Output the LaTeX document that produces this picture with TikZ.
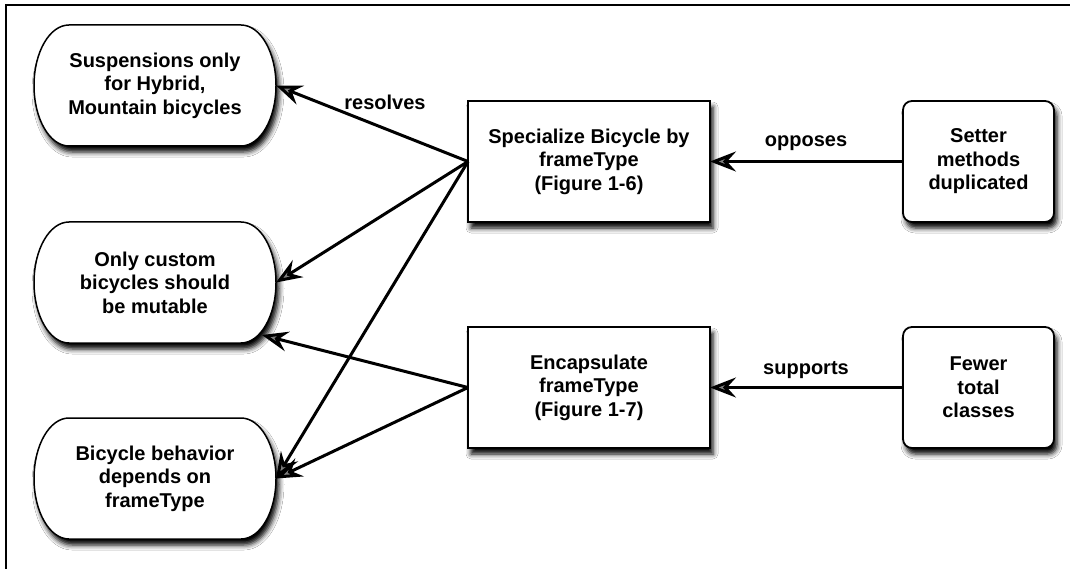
\documentclass[tikz,border=0pt]{standalone}
\usepackage{fontspec}
\setmainfont{Liberation Sans}
\usetikzlibrary{arrows.meta,shadows.blur,calc}

% Oval frame (straight top and bottom, half-elliptic ends), 242 x 121, centred on a point
\newcommand\ovalat[1]{%
  \draw[ovalline]
    ($(#1)+(-86,-60.5)$) -- ($(#1)+(86,-60.5)$)
    arc[start angle=90,end angle=-90,x radius=35pt,y radius=60.5pt]
    -- ($(#1)+(-86,60.5)$)
    arc[start angle=270,end angle=90,x radius=35pt,y radius=60.5pt]
    -- cycle;}

\tikzset{
  txt/.style={font=\fontsize{20}{23.5}\selectfont\bfseries, align=center,
    inner sep=0pt, outer sep=0pt},
  shade/.style={blur shadow={shadow xshift=3pt, shadow yshift=-6pt,
    shadow blur radius=5pt, shadow opacity=100}},
  oval/.style={txt, minimum width=242pt, minimum height=121pt},
  ovalline/.style={draw=black, line width=1.5pt, fill=white, shade},
  choice/.style={txt, draw=black, line width=1.8pt, fill=white, shade,
    minimum width=242pt, minimum height=121pt},
  factor/.style={txt, draw=black, line width=1.8pt, fill=white, shade,
    rounded corners=9pt, minimum width=151pt, minimum height=121pt},
  arr/.style={line width=3pt, -{Stealth[length=26pt,width=20pt,inset=9pt]}},
  lbl/.style={font=\fontsize{20}{23.5}\selectfont\bfseries, inner sep=0pt}
}

\begin{document}
\begin{tikzpicture}[x=1pt,y=-1pt]
  \useasboundingbox (0,0) rectangle (1070,569);
  \fill[white] (0,0) rectangle (1070,569);
  \draw[line width=1.5pt] (6,569) -- (6,5) -- (1070,5);

  % goals on the left
  \coordinate (c1) at (155,85.5);
  \coordinate (c2) at (155,282.5);
  \coordinate (c3) at (155,478.5);
  \ovalat{c1}
  \ovalat{c2}
  \ovalat{c3}
  \node[oval] (s1) at (c1) {Suspensions only\\for Hybrid,\\Mountain bicycles};
  \node[oval] (s2) at (c2) {Only custom\\bicycles should\\be mutable};
  \node[oval] (s3) at (c3) {Bicycle behavior\\depends on\\frameType};

  % design choices
  \node[choice] (spec) at (589,161.5) {Specialize Bicycle by\\frameType\\(Figure 1-6)};
  \node[choice] (enc) at (589,387.5) {Encapsulate\\frameType\\(Figure 1-7)};

  % factors on the right
  \node[factor] (setter) at (978.5,161.5) {Setter\\methods\\duplicated};
  \node[factor] (fewer) at (978.5,387.5) {Fewer\\total\\classes};

  % connectors
  \draw[arr] (spec.west) -- (s1.east);
  \draw[arr] (spec.west) -- (s2.east);
  \draw[arr] (spec.west) -- (s3.east);
  \draw[arr] (enc.west) -- ([xshift=-14pt,yshift=8pt]s2.south east);
  \draw[arr] (enc.west) -- (s3.east);
  \draw[arr] (setter.west) -- (spec.east);
  \draw[arr] (fewer.west) -- (enc.east);

  % connector labels
  \node[lbl] (lres) at (385,102) {resolves};
  \node[lbl] (lopp) at (806,143) {opposes};
  \node[lbl] (lsup) at (806,370) {supports};
\end{tikzpicture}
\end{document}
